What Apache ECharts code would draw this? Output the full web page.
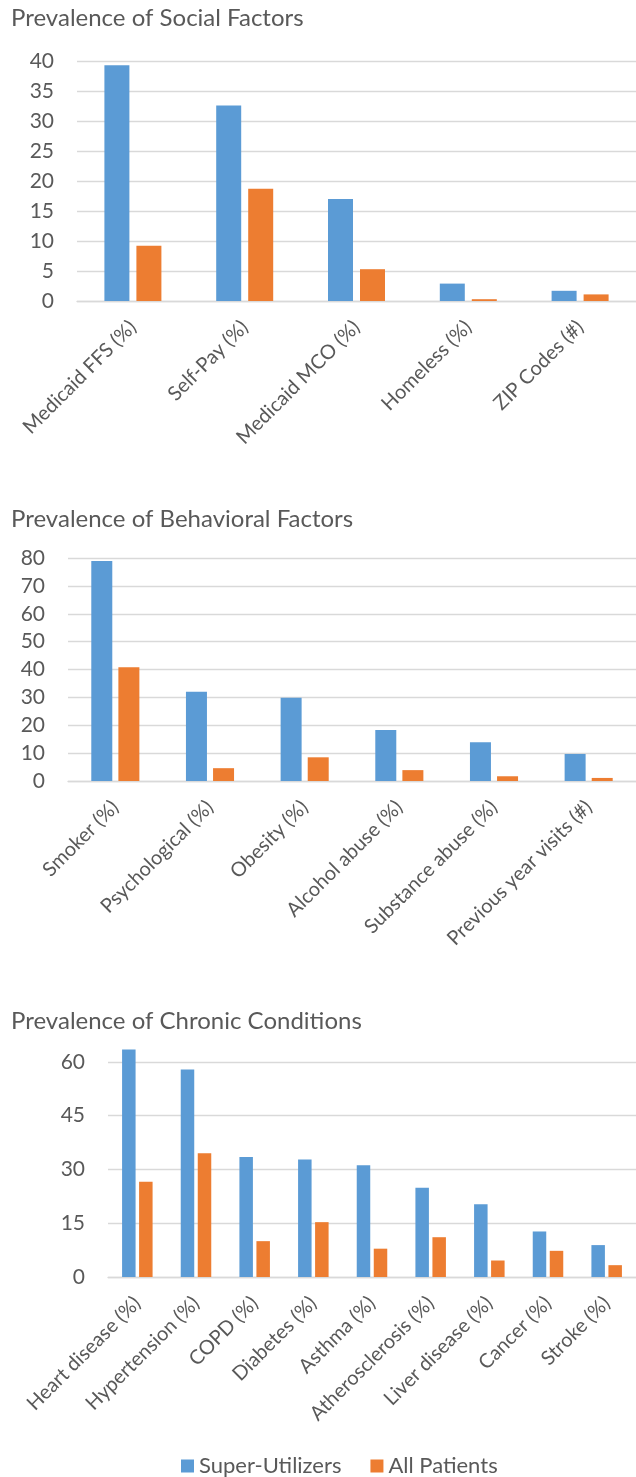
<!DOCTYPE html>
<html>
<head>
<meta charset="utf-8">
<script src="https://cdn.jsdelivr.net/npm/echarts@6/dist/echarts.min.js"></script>
<style>
  html, body { margin: 0; padding: 0; background: #ffffff; }
  #chart { width: 636px; height: 1477px; }
</style>
</head>
<body>
<div id="chart"></div>
<script>
// Series names
const seriesNames = ['Super-Utilizers', 'All Patients'];

// Social factors
const socialCategories = ['Medicaid FFS (%)', 'Self-Pay (%)', 'Medicaid MCO (%)', 'Homeless (%)', 'ZIP Codes (#)'];
const socialSuper = [39.3, 32.6, 17.0, 2.9, 1.7];
const socialAll = [9.2, 18.7, 5.3, 0.3, 1.1];

// Behavioral factors
const behavioralCategories = ['Smoker (%)', 'Psychological (%)', 'Obesity (%)', 'Alcohol abuse (%)', 'Substance abuse (%)', 'Previous year visits (#)'];
const behavioralSuper = [78.9, 32.0, 29.9, 18.3, 13.9, 9.7];
const behavioralAll = [40.8, 4.6, 8.5, 3.9, 1.7, 1.1];

// Chronic conditions
const chronicCategories = ['Heart disease (%)', 'Hypertension (%)', 'COPD (%)', 'Diabetes (%)', 'Asthma (%)', 'Atherosclerosis (%)', 'Liver disease (%)', 'Cancer (%)', 'Stroke (%)'];
const chronicSuper = [63.5, 57.9, 33.5, 32.8, 31.2, 24.9, 20.3, 12.7, 8.9];
const chronicAll = [26.6, 34.5, 10.0, 15.3, 7.9, 11.1, 4.6, 7.3, 3.3];

// Panel titles
const panelTitles = ['Prevalence of Social Factors', 'Prevalence of Behavioral Factors', 'Prevalence of Chronic Conditions'];

const BLUE = '#5B9BD5';
const ORANGE = '#ED7D31';
const TEXT = '#595959';
const GRID_LINE = '#D9D9D9';
const FONT = 'Lato';

function valueAxis(gridIndex, max, interval) {
  return {
    type: 'value', gridIndex, min: 0, max, interval,
    axisLine: { show: false }, axisTick: { show: false },
    axisLabel: { color: TEXT, fontSize: 21, fontFamily: FONT, margin: 23, showMaxLabel: max % interval === 0 },
    splitLine: { show: true, showMaxLine: max % interval === 0, lineStyle: { color: GRID_LINE, width: 1.3 } }
  };
}

function categoryAxis(gridIndex, data) {
  return {
    type: 'category', gridIndex, data,
    axisLine: { show: true, lineStyle: { color: GRID_LINE, width: 1.3 } },
    axisTick: { show: false },
    axisLabel: { color: TEXT, fontSize: 20, fontFamily: FONT, rotate: 45, interval: 0, margin: 23 }
  };
}

function barPair(axisIndex, superData, allData, barWidth, barGap) {
  return [
    { name: seriesNames[0], type: 'bar', xAxisIndex: axisIndex, yAxisIndex: axisIndex, data: superData,
      barWidth, barGap, itemStyle: { color: BLUE } },
    { name: seriesNames[1], type: 'bar', xAxisIndex: axisIndex, yAxisIndex: axisIndex, data: allData,
      barWidth, barGap, itemStyle: { color: ORANGE } }
  ];
}

function panelTitle(text, top) {
  return { text, left: 11, top, padding: 0,
    textStyle: { color: TEXT, fontSize: 24, fontWeight: 'normal', fontFamily: FONT } };
}

const chart = echarts.init(document.getElementById('chart'), null, { renderer: 'canvas' });

chart.setOption({
  animation: false,
  backgroundColor: '#ffffff',
  textStyle: { fontFamily: FONT },
  title: [
    panelTitle(panelTitles[0], 6),
    panelTitle(panelTitles[1], 507),
    panelTitle(panelTitles[2], 1009)
  ],
  legend: {
    data: seriesNames, left: 181, top: 1455, padding: 0, icon: 'rect', itemWidth: 13, itemHeight: 13, itemGap: 29,
    textStyle: { color: TEXT, fontSize: 22, fontFamily: FONT }
  },
  grid: [
    { left: 77, top: 61, width: 563, height: 240 },
    { left: 68, top: 558, width: 573, height: 223 },
    { left: 108, top: 1044, width: 533, height: 233 }
  ],
  xAxis: [
    categoryAxis(0, socialCategories),
    categoryAxis(1, behavioralCategories),
    categoryAxis(2, chronicCategories)
  ],
  yAxis: [
    valueAxis(0, 40, 5),
    valueAxis(1, 80, 10),
    valueAxis(2, 65, 15)
  ],
  series: [
    ...barPair(0, socialSuper, socialAll, 25, '28%'),
    ...barPair(1, behavioralSuper, behavioralAll, 21, '29%'),
    ...barPair(2, chronicSuper, chronicAll, 13.5, '26%')
  ]
});
</script>
</body>
</html>
